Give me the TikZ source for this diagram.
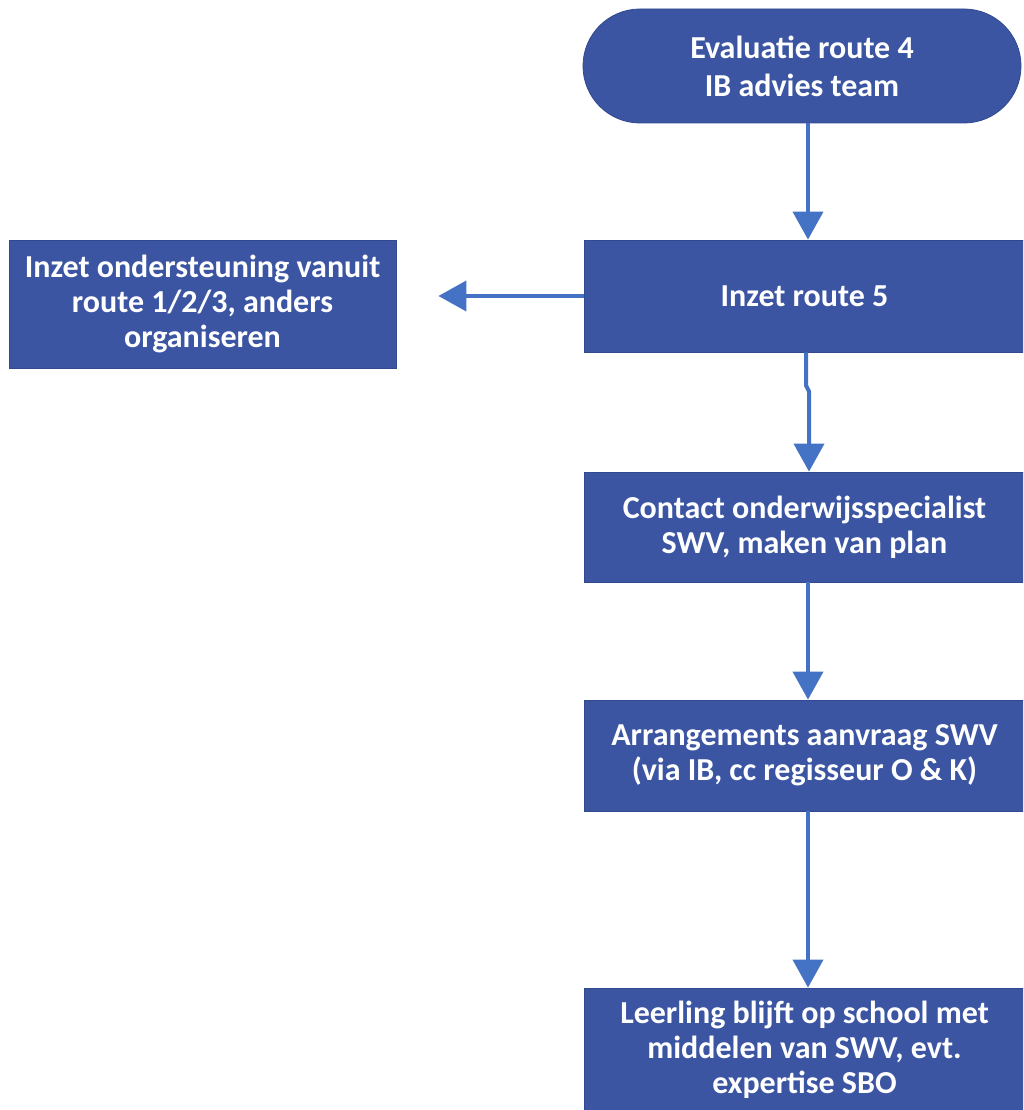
\documentclass[tikz,border=0pt]{standalone}
\usepackage{fontspec}
\setmainfont{Carlito}
\usetikzlibrary{arrows.meta,calc,shapes.misc}
\definecolor{boxblue}{HTML}{3B55A3}
\definecolor{boxedge}{HTML}{30498F}
\definecolor{arrowblue}{HTML}{4472C4}
\begin{document}
\begin{tikzpicture}[x=1pt,y=-1pt,
  box/.style={rectangle,fill=boxblue,draw=boxedge,line width=0.8pt,text=white,
    align=center,inner sep=0pt,
    font=\fontsize{32}{35}\selectfont\bfseries},
  conn/.style={draw=arrowblue,line width=4pt,
    -{Triangle[width=30pt,length=28pt]}}]
\useasboundingbox (0,0) rectangle (1023,1110);
\begin{scope}
\clip (0,0) rectangle (1023,1110);
\node[box,rounded rectangle,minimum width=438pt,minimum height=114pt,
  font=\fontsize{32}{38}\selectfont\bfseries] (top) at (802,66) {Evaluatie route 4\\IB advies team};
\node[box,minimum width=441pt,minimum height=112pt] (r5) at (804.5,296) {Inzet route 5};
\node[box,minimum width=387pt,minimum height=128pt] (left) at (202.5,304) {Inzet ondersteuning vanuit\\route 1/2/3, anders\\organiseren};
\node[box,minimum width=441pt,minimum height=110pt] (contact) at (804.5,527) {Contact onderwijsspecialist\\SWV, maken van plan};
\node[box,minimum width=441pt,minimum height=111pt] (arrg) at (804.5,755.5) {Arrangements aanvraag SWV\\(via IB, cc regisseur O \& K)};
\node[box,minimum width=441pt,minimum height=124pt] (bottom) at (804.5,1050) {Leerling blijft op school met\\middelen van SWV, evt.\\expertise SBO};
\coordinate (ax) at (808,0);
\coordinate (jx) at (806,0);
\coordinate (jy) at (809,0);
\coordinate (lx) at ([xshift=42pt]left.east);
\draw[conn] (top.south -| ax) -- (r5.north -| ax);
\draw[conn] (r5.west) -- (r5.west -| lx);
\draw[conn] (r5.south -| jx) -- ++(0,33) -- ++(3,6) -- (contact.north -| jy);
\draw[conn] (contact.south -| ax) -- (arrg.north -| ax);
\draw[conn] (arrg.south -| ax) -- (bottom.north -| ax);
\end{scope}
\end{tikzpicture}
\end{document}
